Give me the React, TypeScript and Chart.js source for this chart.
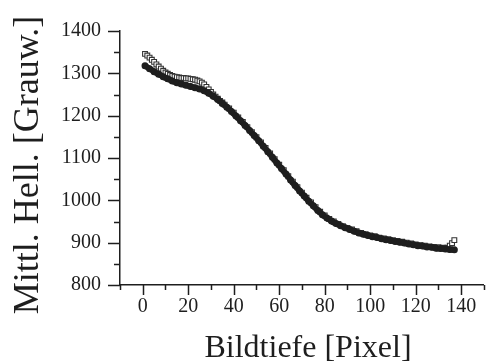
import React, { useEffect, useRef } from "react";
import { Chart, registerables } from "chart.js";

Chart.register(...registerables);

const depth = [1, 3, 5, 7, 9, 11, 13, 15, 17, 19, 21, 23, 25, 27, 29, 31, 33, 35, 37, 39, 41, 43, 45, 47, 49, 51, 53, 55, 57, 59, 61, 63, 65, 67, 69, 71, 73, 75, 77, 79, 81, 83, 85, 87, 89, 91, 93, 95, 97, 99, 101, 103, 105, 107, 109, 111, 113, 115, 117, 119, 121, 123, 125, 127, 129, 131, 133, 135, 137];

const filledSeries = [1318, 1311, 1304, 1298, 1292, 1287, 1282, 1278, 1275, 1272, 1269, 1266, 1263, 1259, 1253, 1246, 1238, 1229, 1220, 1210, 1199, 1188, 1177, 1165, 1153, 1141, 1128, 1115, 1102, 1088, 1075, 1062, 1048, 1035, 1022, 1010, 998, 987, 976, 966, 958, 951, 945, 940, 935, 931, 927, 923, 920, 917, 914, 912, 909, 907, 905, 903, 901, 899, 897, 895, 893, 892, 890, 889, 887, 886, 885, 884, 883];

const openDepth = [1, 2, 3, 4, 5, 6, 7, 8, 9, 10, 11, 12, 13, 14, 15, 16, 17, 18, 19, 20, 21, 22, 23, 24, 25, 26, 27, 28, 29, 30, 31, 32, 33, 34, 35, 36, 38, 40, 42, 44, 46, 48, 50, 52, 54, 56, 58, 60, 62, 64, 66, 68, 70, 72, 74, 76, 78, 80, 82, 84, 86, 88, 90, 92, 94, 96, 98, 100, 102, 104, 106, 108, 110, 112, 114, 116, 118, 120, 122, 124, 126, 128, 130, 132, 134, 135, 136, 137];

const openSeries = [1346, 1342, 1337, 1332, 1327, 1321, 1316, 1311, 1306, 1302, 1299, 1296, 1294, 1292, 1291, 1290, 1289, 1289, 1288, 1288, 1287, 1286, 1285, 1283, 1281, 1278, 1274, 1268, 1262, 1256, 1250, 1245, 1240, 1235, 1231, 1226, 1217, 1207, 1196, 1185, 1173, 1161, 1149, 1137, 1124, 1111, 1097, 1084, 1071, 1057, 1044, 1031, 1018, 1006, 995, 984, 973, 964, 956, 950, 944, 939, 935, 931, 927, 923, 920, 917, 915, 912, 910, 908, 906, 904, 902, 900, 898, 896, 894, 893, 891, 890, 889, 888, 888, 893, 899, 906];

const xMajorTicks = [0, 20, 40, 60, 80, 100, 120, 140];
const xMinorTicks = [-10, 10, 30, 50, 70, 90, 110, 130, 150];
const yMajorTicks = [800, 900, 1000, 1100, 1200, 1300, 1400];
const yMinorTicks = [850, 950, 1050, 1150, 1250, 1350];

const xTitle = "Bildtiefe [Pixel]";
const yTitle = "Mittl. Hell. [Grauw.]";

const INK = "#1e1e1e";
const FONT = "'Liberation Serif', 'Times New Roman', serif";

const decorPlugin = {
  id: "decor",
  afterDraw(chart: any) {
    const ctx = chart.ctx as CanvasRenderingContext2D;
    const xs = chart.scales.x;
    const ys = chart.scales.y;
    const left = chart.chartArea.left;
    const bottom = chart.chartArea.bottom;
    ctx.save();
    ctx.strokeStyle = INK;
    ctx.lineWidth = 1.5;
    ctx.beginPath();
    yMajorTicks.forEach((v) => {
      const p = Math.round(ys.getPixelForValue(v)) + 0.5;
      ctx.moveTo(left - 12, p);
      ctx.lineTo(left, p);
    });
    yMinorTicks.forEach((v) => {
      const p = Math.round(ys.getPixelForValue(v)) + 0.5;
      ctx.moveTo(left - 6, p);
      ctx.lineTo(left, p);
    });
    xMajorTicks.forEach((v) => {
      const p = Math.round(xs.getPixelForValue(v)) + 0.5;
      ctx.moveTo(p, bottom);
      ctx.lineTo(p, bottom + 10);
    });
    xMinorTicks.forEach((v) => {
      const p = Math.round(xs.getPixelForValue(v)) + 0.5;
      ctx.moveTo(p, bottom);
      ctx.lineTo(p, bottom + 5);
    });
    ctx.stroke();

    ctx.fillStyle = INK;
    ctx.font = `32px ${FONT}`;
    ctx.textAlign = "center";
    ctx.textBaseline = "alphabetic";
    ctx.fillText(xTitle, 308, 357);

    ctx.translate(38, 165);
    ctx.rotate(-Math.PI / 2);
    ctx.font = `36px ${FONT}`;
    ctx.fillText(yTitle, 0, 0);
    ctx.restore();
  },
};

export default function App() {
  const ref = useRef<HTMLCanvasElement | null>(null);

  useEffect(() => {
    document.body.style.margin = "0";
    const canvas = ref.current;
    if (!canvas) return;
    const chart = new Chart(canvas, {
      type: "scatter",
      data: {
        datasets: [
          {
            label: "filled",
            data: depth.map((x, i) => ({ x, y: filledSeries[i] })),
            pointStyle: "circle",
            pointRadius: 3.5,
            pointBackgroundColor: INK,
            pointBorderColor: INK,
            pointBorderWidth: 0,
            showLine: true,
            borderColor: INK,
            borderWidth: 6,
            tension: 0.3,
            order: 0,
          },
          {
            label: "open",
            data: openDepth.map((x, i) => ({ x, y: openSeries[i] })),
            pointStyle: "rect",
            pointRadius: 3.4,
            pointBackgroundColor: "#ffffff",
            pointBorderColor: "#333333",
            pointBorderWidth: 1.1,
            showLine: false,
            order: 1,
          },
        ],
      },
      options: {
        responsive: false,
        animation: false,
        events: [],
        layout: { padding: { top: 20, right: 0, left: 0, bottom: 0 } },
        plugins: {
          legend: { display: false },
          tooltip: { enabled: false },
          title: { display: false },
        },
        scales: {
          x: {
            type: "linear",
            min: -10,
            max: 150,
            grid: { display: false, drawTicks: false },
            border: { display: true, color: INK, width: 1.5 },
            afterBuildTicks: (scale: any) => {
              scale.ticks = xMajorTicks.map((v) => ({ value: v }));
            },
            afterFit: (scale: any) => {
              scale.height = 79;
            },
            ticks: {
              autoSkip: false,
              maxRotation: 0,
              padding: 10,
              color: INK,
              font: { family: FONT, size: 20 },
              callback: (v: any) => String(v),
            },
          },
          y: {
            type: "linear",
            min: 800,
            max: 1400,
            grid: { display: false, drawTicks: false },
            border: { display: true, color: INK, width: 1.5 },
            afterBuildTicks: (scale: any) => {
              scale.ticks = yMajorTicks.map((v) => ({ value: v }));
            },
            afterFit: (scale: any) => {
              scale.width = 120;
            },
            ticks: {
              autoSkip: false,
              padding: 19,
              color: INK,
              font: { family: FONT, size: 20 },
              callback: (v: any) => String(v),
            },
          },
        },
      },
      plugins: [decorPlugin],
    });
    return () => chart.destroy();
  }, []);

  return (
    <div style={{ width: 489, height: 364, background: "#fff" }}>
      <canvas ref={ref} width={489} height={364} style={{ width: 489, height: 364, display: "block" }} />
    </div>
  );
}
